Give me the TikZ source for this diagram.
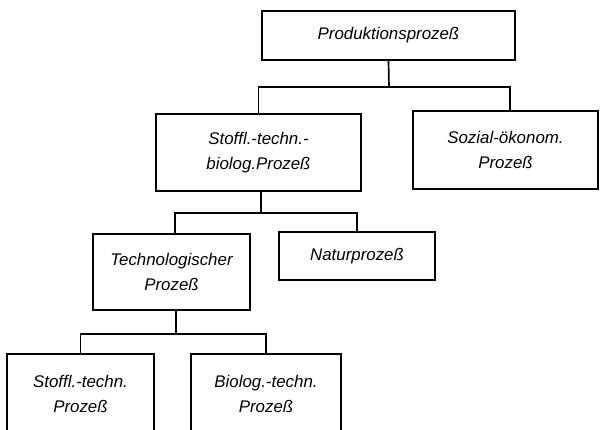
\documentclass[tikz,border=0pt]{standalone}
\usepackage{fontspec}
\setmainfont{Liberation Sans}
\usepackage{tikz}
\usetikzlibrary{positioning}

\begin{document}
\begin{tikzpicture}[
        x=0.025cm, y=-0.025cm,
        every node/.style={draw, line width=1.2pt, align=center,
            font=\itshape\fontsize{12}{17.5}\selectfont, inner sep=0pt},
        line width=1.2pt
    ]
    \useasboundingbox (0,0) rectangle (600,429);
    \clip (0,0) rectangle (600,429);

    % Boxes
    \node[minimum width=6.325cm, minimum height=1.225cm] (prod) at (388.5,35.5) {Produktionsprozeß};
    \node[minimum width=5.125cm, minimum height=1.925cm] (stoff) at (258.5,152.5) {Stoffl.-techn.-\\biolog.Prozeß};
    \node[minimum width=4.625cm, minimum height=1.95cm] (sozial) at (505.5,150) {Sozial-ökonom.\\Prozeß};
    \node[minimum width=3.925cm, minimum height=1.9cm] (tech) at (171.5,272) {Technologischer\\Prozeß};
    \node[minimum width=3.9cm, minimum height=1.2cm] (natur) at (357,256) {Naturprozeß};
    \node[minimum width=3.675cm, minimum height=2cm] (stofftech) at (80.5,394) {Stoffl.-techn.\\Prozeß};
    \node[minimum width=3.75cm, minimum height=2cm] (bio) at (266,394) {Biolog.-techn.\\Prozeß};

    % Connectors
    \coordinate (j1) at (389,87);
    \coordinate (j2) at (261,213);
    \coordinate (j3) at (176,334);
    \draw (prod.south) -- (j1);
    \draw (stoff.north) |- (j1) -| ([xshift=0.11cm]sozial.north);
    \draw (stoff.south -| j2) -- (j2);
    \draw ([xshift=0.09cm]tech.north) |- (j2) -| (natur.north);
    \draw (tech.south -| j3) -- (j3);
    \draw (stofftech.north) |- (j3) -| (bio.north);
\end{tikzpicture}
\end{document}
